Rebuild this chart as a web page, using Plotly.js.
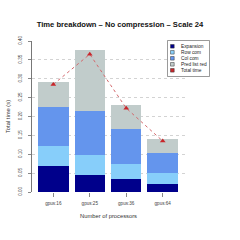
<!DOCTYPE html>
<html><head><meta charset="utf-8">
<script src="https://cdn.plot.ly/plotly-3.0.1.min.js"></script>
<style>html,body{margin:0;padding:0;background:#fff}#c{width:240px;height:240px}</style>
</head><body><div id="c"></div>
<script>
const categories = ["gpus:16", "gpus:25", "gpus:36", "gpus:64"];
const expansion = [0.070, 0.046, 0.035, 0.020];
const rowCom   = [0.052, 0.053, 0.039, 0.030];
const colCom   = [0.103, 0.116, 0.093, 0.053];
const predList = [0.066, 0.162, 0.063, 0.037];
const totalTime = [0.285, 0.365, 0.222, 0.135];
const seriesNames = ["Expansion", "Row com", "Col com", "Pred list red", "Total time"];
const yTicks = [0, 0.05, 0.10, 0.15, 0.20, 0.25, 0.30, 0.35, 0.40];
const yTickText = ["0.00","0.05","0.10","0.15","0.20","0.25","0.30","0.35","0.40"];

const colors = ["#00008B", "#87CEFA", "#6495ED", "#C1CCCB", "#C8262B"];
const stacks = [expansion, rowCom, colCom, predList];

const W = 240, H = 240, L = 32, R = 55, T = 41, B = 48;
const pw = W - L - R, ph = H - T - B;
const px = x => (x - L) / pw;
const py = y => (H - B - y) / ph;

const traces = stacks.map((vals, i) => ({
  type: "bar", x: [0,1,2,3], y: vals, name: seriesNames[i],
  marker: {color: colors[i], line: {width: 0}}, width: 0.836,
  showlegend: false, hoverinfo: "skip"
}));
traces.push({
  type: "scatter", mode: "lines+markers", x: [0,1,2,3], y: totalTime,
  name: seriesNames[4], showlegend: false, cliponaxis: false,
  line: {color: "#D46A6E", width: 1, dash: "dot"},
  marker: {symbol: "triangle-up", size: 5, color: colors[4]}
});

// manual legend (R-style compact box)
const shapes = [];
const annotations = [];
shapes.push({type: "rect", xref: "paper", yref: "paper",
  x0: px(167.5), x1: px(209.5), y0: py(40.5), y1: py(76.5),
  line: {color: "#555", width: 0.6}, fillcolor: "#fff"});
seriesNames.forEach((nm, i) => {
  const cy = 46.3 + i * 6;
  shapes.push({type: "rect", xref: "paper", yref: "paper",
    x0: px(170.5), x1: px(174.2), y0: py(cy - 1.8), y1: py(cy + 1.8),
    line: {color: "#333", width: 0.5}, fillcolor: colors[i]});
  annotations.push({xref: "paper", yref: "paper", x: px(178.8), y: py(cy),
    xanchor: "left", yanchor: "middle", text: nm, showarrow: false,
    font: {family: "Liberation Sans, Arial", size: 4.8, color: "#222"}});
});

const layout = {
  width: W, height: H, margin: {l: L, r: R, t: T, b: B},
  paper_bgcolor: "#fff", plot_bgcolor: "#fff",
  barmode: "stack", showlegend: false,
  font: {family: "Liberation Sans, Arial", color: "#333"},
  title: {text: "<b>Time breakdown – No compression – Scale 24</b>",
    x: px(108.5), xanchor: "center", y: 1 - 24.5 / H, yanchor: "middle",
    font: {size: 7.6, color: "#111", family: "Liberation Sans, Arial"}},
  xaxis: {range: [-0.584, 3.611], tickvals: [0,1,2,3], ticktext: categories,
    showgrid: false, zeroline: false, showline: false,
    ticks: "outside", ticklen: 4, tickcolor: "#555", tickwidth: 0.7,
    tickfont: {size: 4.6, color: "#444"}, ticklabelstandoff: 2,
    title: {text: "Number of processors", font: {size: 5.8, color: "#333"}, standoff: 9}},
  yaxis: {range: [0, 0.40], tickvals: yTicks, ticktext: yTickText, tickangle: -90,
    showgrid: true, gridcolor: "#c8c8c8", griddash: "dot", gridwidth: 0.8,
    zeroline: false, showline: true, linecolor: "#555", linewidth: 0.8,
    ticks: "outside", ticklen: 3, tickcolor: "#555", tickwidth: 0.7,
    tickfont: {size: 4.6, color: "#444"}, ticklabelstandoff: 4,
    title: {text: "Total time (s)", font: {size: 5.8, color: "#333"}, standoff: 7}},
  shapes: shapes, annotations: annotations
};
Plotly.newPlot("c", traces, layout, {staticPlot: true, displayModeBar: false});
</script></body></html>
